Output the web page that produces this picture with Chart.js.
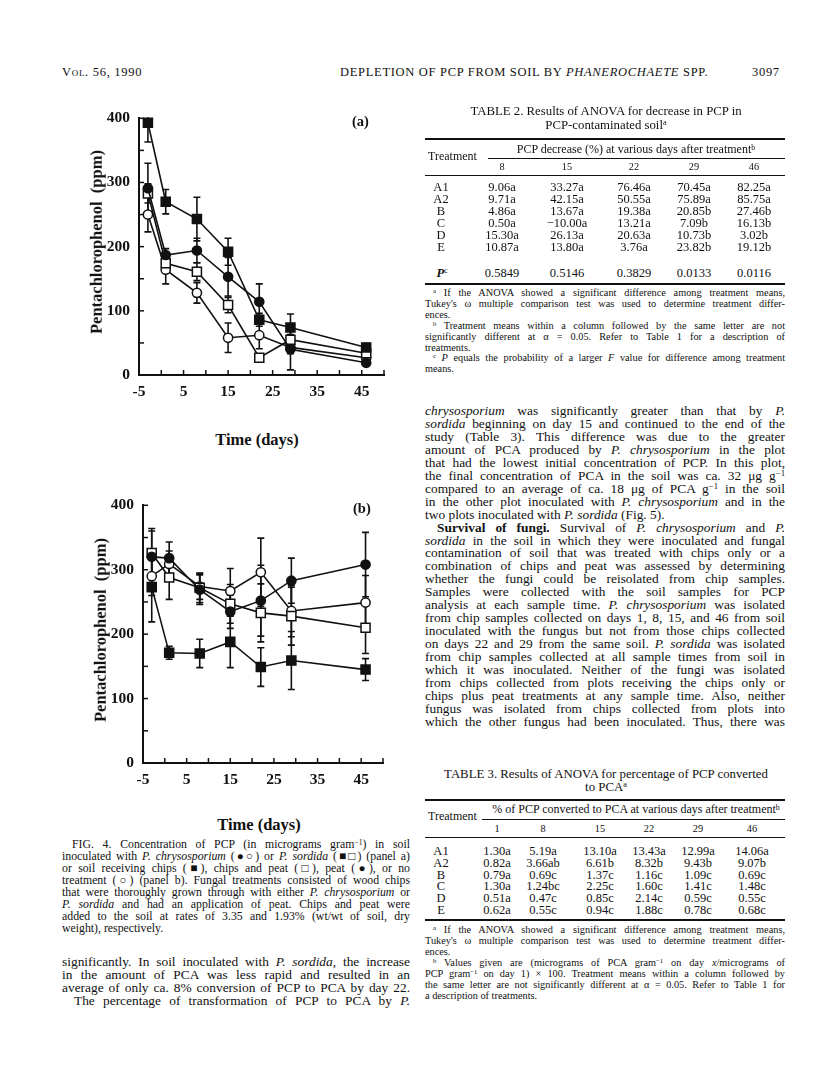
<!DOCTYPE html>
<html>
<head>
<meta charset="utf-8">
<script src="https://cdn.jsdelivr.net/npm/chart.js@4.4.1/dist/chart.umd.min.js"></script>
<style>
  html,body{margin:0;padding:0;background:#fff;}
  #page{position:relative;width:816px;height:1083px;overflow:hidden;background:#fff;color:#111;font-family:"Liberation Serif","Times New Roman",serif;}
  .l{position:absolute;white-space:nowrap;line-height:1;}
  .j{text-align:justify;text-align-last:justify;}
  .c{transform:translateX(-50%);}
  .r{position:absolute;background:#111;}
  .b{font-weight:bold;}
  i{font-style:italic;}
  sup{font-size:65%;line-height:0;vertical-align:0.45em;}
  .sc{font-variant:small-caps;}
  canvas{position:absolute;}
  .ylab{position:absolute;font-weight:bold;font-size:16.5px;white-space:nowrap;transform:translate(-50%,-50%) rotate(-90deg);line-height:1;}
  .xlab{position:absolute;font-weight:bold;font-size:16.5px;white-space:nowrap;transform:translate(-50%,-50%);line-height:1;}
  .cap{font-size:11.8px;}
  .body{font-size:13.4px;}
  .fn{font-size:10.3px;}
  .tb{font-size:12.5px;}
  .th{font-size:12px;}
  .hd{font-size:12.5px;letter-spacing:0.7px;}
</style>
</head>
<body>
<div id="page">
  <!-- running head -->
  <div class="l hd" style="left:62px;top:66px;"><span class="sc">Vol.</span> 56, 1990</div>
  <div class="l hd" style="left:340px;top:66px;">DEPLETION OF PCP FROM SOIL BY <i>PHANEROCHAETE</i> SPP.</div>
  <div class="l hd" style="left:752px;top:66px;">3097</div>

  <!-- chart a -->
  <canvas id="chartA" width="320" height="305" style="left:79px;top:100px;"></canvas>
  <div class="ylab" style="left:97px;top:242px;">Pentachlorophenol&nbsp;&nbsp;(ppm)</div>
  <div class="xlab" style="left:257px;top:440px;">Time (days)</div>
  <div class="l b" style="left:352px;top:114px;font-size:14.5px;">(a)</div>

  <!-- chart b -->
  <canvas id="chartB" width="320" height="306" style="left:83px;top:487px;"></canvas>
  <div class="ylab" style="left:101px;top:630px;">Pentachlorophenol&nbsp;&nbsp;(ppm)</div>
  <div class="xlab" style="left:259px;top:825px;">Time (days)</div>
  <div class="l b" style="left:353px;top:501px;font-size:14.5px;">(b)</div>

  <!-- figure caption -->
  <div class="l j cap" style="left:72px;top:839px;width:338px;">FIG. 4. Concentration of PCP (in micrograms gram<sup>−1</sup>) in soil</div>
  <div class="l j cap" style="left:62px;top:851px;width:348px;">inoculated with <i>P. chrysosporium</i> (●○) or <i>P. sordida</i> (■□) (panel a)</div>
  <div class="l j cap" style="left:62px;top:863px;width:348px;">or soil receiving chips (■), chips and peat (□), peat (●), or no</div>
  <div class="l j cap" style="left:62px;top:875px;width:348px;">treatment (○) (panel b). Fungal treatments consisted of wood chips</div>
  <div class="l j cap" style="left:62px;top:887px;width:348px;">that were thoroughly grown through with either <i>P. chrysosporium</i> or</div>
  <div class="l j cap" style="left:62px;top:899px;width:348px;"><i>P. sordida</i> and had an application of peat. Chips and peat were</div>
  <div class="l j cap" style="left:62px;top:911px;width:348px;">added to the soil at rates of 3.35 and 1.93% (wt/wt of soil, dry</div>
  <div class="l cap" style="left:62px;top:923px;">weight), respectively.</div>

  <!-- left column paragraph -->
  <div class="l j body" style="left:62px;top:955px;width:348px;">significantly. In soil inoculated with <i>P. sordida</i>, the increase</div>
  <div class="l j body" style="left:62px;top:968px;width:348px;">in the amount of PCA was less rapid and resulted in an</div>
  <div class="l j body" style="left:62px;top:981px;width:348px;">average of only ca. 8% conversion of PCP to PCA by day 22.</div>
  <div class="l j body" style="left:74px;top:994px;width:336px;">The percentage of transformation of PCP to PCA by <i>P.</i></div>

  <!-- TABLE 2 -->
  <div class="l c tb" style="left:606px;top:105px;font-size:12.8px;">TABLE 2. Results of ANOVA for decrease in PCP in</div>
  <div class="l c tb" style="left:606px;top:119px;font-size:12.8px;">PCP-contaminated soil<sup>a</sup></div>
  <div class="r" style="left:425px;top:138px;width:360px;height:1.5px;"></div>
  <div class="l c th" style="left:636px;top:143px;">PCP decrease (%) at various days after treatment<sup>b</sup></div>
  <div class="l th" style="left:428px;top:150px;">Treatment</div>
  <div class="r" style="left:488px;top:158px;width:297px;height:1px;"></div>
  <div id="t2head"></div>
  <div class="r" style="left:425px;top:175px;width:360px;height:1px;"></div>
  <div id="t2rows"></div>
  <div class="r" style="left:425px;top:283px;width:360px;height:1.5px;"></div>
  <div class="l j fn" style="left:433px;top:288px;width:352px;"><sup>a</sup> If the ANOVA showed a significant difference among treatment means,</div>
  <div class="l j fn" style="left:425px;top:299px;width:360px;">Tukey's ω multiple comparison test was used to determine treatment differ-</div>
  <div class="l fn" style="left:425px;top:310px;">ences.</div>
  <div class="l j fn" style="left:433px;top:321px;width:352px;"><sup>b</sup> Treatment means within a column followed by the same letter are not</div>
  <div class="l j fn" style="left:425px;top:332px;width:360px;">significantly different at α = 0.05. Refer to Table 1 for a description of</div>
  <div class="l fn" style="left:425px;top:343px;">treatments.</div>
  <div class="l j fn" style="left:433px;top:353px;width:352px;"><sup>c</sup> <i>P</i> equals the probability of a larger <i>F</i> value for difference among treatment</div>
  <div class="l fn" style="left:425px;top:364px;">means.</div>

  <!-- right column body text -->
  <div id="rbody"></div>

  <!-- TABLE 3 -->
  <div class="l c tb" style="left:606px;top:768px;font-size:12.8px;">TABLE 3. Results of ANOVA for percentage of PCP converted</div>
  <div class="l c tb" style="left:606px;top:781px;font-size:12.8px;">to PCA<sup>a</sup></div>
  <div class="r" style="left:425px;top:799px;width:360px;height:1.5px;"></div>
  <div class="l c th" style="left:636px;top:803px;">% of PCP converted to PCA at various days after treatment<sup>b</sup></div>
  <div class="l th" style="left:428px;top:810px;">Treatment</div>
  <div class="r" style="left:482px;top:819px;width:303px;height:1px;"></div>
  <div id="t3head"></div>
  <div class="r" style="left:425px;top:837px;width:360px;height:1px;"></div>
  <div id="t3rows"></div>
  <div class="r" style="left:425px;top:919px;width:360px;height:1.5px;"></div>
  <div class="l j fn" style="left:433px;top:925px;width:352px;"><sup>a</sup> If the ANOVA showed a significant difference among treatment means,</div>
  <div class="l j fn" style="left:425px;top:936px;width:360px;">Tukey's ω multiple comparison test was used to determine treatment differ-</div>
  <div class="l fn" style="left:425px;top:947px;">ences.</div>
  <div class="l j fn" style="left:433px;top:958px;width:352px;"><sup>b</sup> Values given are (micrograms of PCA gram<sup>−1</sup> on day <i>x</i>/micrograms of</div>
  <div class="l j fn" style="left:425px;top:969px;width:360px;">PCP gram<sup>−1</sup> on day 1) × 100. Treatment means within a column followed by</div>
  <div class="l j fn" style="left:425px;top:980px;width:360px;">the same letter are not significantly different at α = 0.05. Refer to Table 1 for</div>
  <div class="l fn" style="left:425px;top:991px;">a description of treatments.</div>
</div>

<script>
// ---------- chart data ----------
const days = [-3, 1, 8, 15, 22, 29, 46];
const xTickLabels = [-5, 5, 15, 25, 35, 45];
const yTickLabels = [0, 100, 200, 300, 400];

// panel (a): P. chrysosporium (filled / open circle), P. sordida (filled / open square)
const aFilledSquare    = [393, 270, 243, 192, 86, 74, 43];
const aFilledSquareErr = [30, 19, 34, 21, 10, 21, 6];
const aFilledCircle    = [291, 187, 194, 153, 114, 40, 19];
const aFilledCircleErr = [39, 10, 19, 30, 28, 32, 5];
const aOpenSquare      = [283, 174, 161, 109, 27, 55, 34];
const aOpenSquareErr   = [15, 10, 14, 12, 5, 8, 5];
const aOpenCircle      = [250, 164, 128, 58, 62, 43, 27];
const aOpenCircleErr   = [27, 22, 16, 23, 21, 10, 5];

// panel (b): chips (filled square), chips and peat (open square), peat (filled circle), no treatment (open circle)
const bFilledSquare    = [273, 171, 170, 188, 149, 159, 145];
const bFilledSquareErr = [54, 10, 22, 40, 30, 45, 17];
const bFilledCircle    = [320, 318, 269, 235, 252, 283, 308];
const bFilledCircleErr = [40, 25, 23, 26, 55, 35, 50];
const bOpenSquare      = [326, 288, 272, 247, 233, 228, 210];
const bOpenSquareErr   = [38, 34, 23, 30, 45, 45, 40];
const bOpenCircle      = [290, 309, 274, 267, 296, 236, 249];
const bOpenCircleErr   = [30, 20, 20, 35, 53, 40, 42];

// ---------- tables ----------
const t2Days = ['8', '15', '22', '29', '46'];
const t2Treat = ['A1', 'A2', 'B', 'C', 'D', 'E'];
const t2Vals = [
  ['9.06a', '33.27a', '76.46a', '70.45a', '82.25a'],
  ['9.71a', '42.15a', '50.55a', '75.89a', '85.75a'],
  ['4.86a', '13.67a', '19.38a', '20.85b', '27.46b'],
  ['0.50a', '−10.00a', '13.21a', '7.09b', '16.13b'],
  ['15.30a', '26.13a', '20.63a', '10.73b', '3.02b'],
  ['10.87a', '13.80a', '3.76a', '23.82b', '19.12b']
];
const t2P = ['0.5849', '0.5146', '0.3829', '0.0133', '0.0116'];
const t3Days = ['1', '8', '15', '22', '29', '46'];
const t3Vals = [
  ['1.30a', '5.19a', '13.10a', '13.43a', '12.99a', '14.06a'],
  ['0.82a', '3.66ab', '6.61b', '8.32b', '9.43b', '9.07b'],
  ['0.79a', '0.69c', '1.37c', '1.16c', '1.09c', '0.69c'],
  ['1.30a', '1.24bc', '2.25c', '1.60c', '1.41c', '1.48c'],
  ['0.51a', '0.47c', '0.85c', '2.14c', '0.59c', '0.55c'],
  ['0.62a', '0.55c', '0.94c', '1.88c', '0.78c', '0.68c']
];

function addText(parentId, html, left, top, cls, center) {
  const d = document.createElement('div');
  d.className = 'l ' + (cls || '') + (center ? ' c' : '');
  d.style.left = left + 'px';
  d.style.top = top + 'px';
  d.innerHTML = html;
  document.getElementById(parentId).appendChild(d);
}
const t2Cols = [502, 567, 634, 694, 754];
t2Days.forEach((d, c) => addText('t2head', d, t2Cols[c], 162, 'fn', true));
t2Treat.forEach((t, r) => {
  const top = 181 + r * 12;
  addText('t2rows', t, 441, top, 'tb', true);
  t2Vals[r].forEach((v, c) => addText('t2rows', v, t2Cols[c], top, 'tb', true));
});
addText('t2rows', '<i><b>P</b></i><sup>c</sup>', 442, 267, 'tb', true);
t2P.forEach((v, c) => addText('t2rows', v, t2Cols[c], 267, 'tb', true));

const t3Cols = [497, 543, 600, 649, 698, 752];
t3Days.forEach((d, c) => addText('t3head', d, t3Cols[c], 824, 'fn', true));
t3Vals.forEach((row, r) => {
  const top = 845 + r * 11.8;
  addText('t3rows', t2Treat[r], 441, top, 'tb', true);
  row.forEach((v, c) => addText('t3rows', v, t3Cols[c], top, 'tb', true));
});

// right column body lines
const rLines = [
  ['<i>chrysosporium</i> was significantly greater than that by <i>P.</i>', 1],
  ['<i>sordida</i> beginning on day 15 and continued to the end of the', 1],
  ['study (Table 3). This difference was due to the greater', 1],
  ['amount of PCA produced by <i>P. chrysosporium</i> in the plot', 1],
  ['that had the lowest initial concentration of PCP. In this plot,', 1],
  ['the final concentration of PCA in the soil was ca. 32 μg g<sup>−1</sup>', 1],
  ['compared to an average of ca. 18 μg of PCA g<sup>−1</sup> in the soil', 1],
  ['in the other plot inoculated with <i>P. chrysosporium</i> and in the', 1],
  ['two plots inoculated with <i>P. sordida</i> (Fig. 5).', 0],
  ['<b>Survival of fungi.</b> Survival of <i>P. chrysosporium</i> and <i>P.</i>', 2],
  ['<i>sordida</i> in the soil in which they were inoculated and fungal', 1],
  ['contamination of soil that was treated with chips only or a', 1],
  ['combination of chips and peat was assessed by determining', 1],
  ['whether the fungi could be reisolated from chip samples.', 1],
  ['Samples were collected with the soil samples for PCP', 1],
  ['analysis at each sample time. <i>P. chrysosporium</i> was isolated', 1],
  ['from chip samples collected on days 1, 8, 15, and 46 from soil', 1],
  ['inoculated with the fungus but not from those chips collected', 1],
  ['on days 22 and 29 from the same soil. <i>P. sordida</i> was isolated', 1],
  ['from chip samples collected at all sample times from soil in', 1],
  ['which it was inoculated. Neither of the fungi was isolated', 1],
  ['from chips collected from plots receiving the chips only or', 1],
  ['chips plus peat treatments at any sample time. Also, neither', 1],
  ['fungus was isolated from chips collected from plots into', 1],
  ['which the other fungus had been inoculated. Thus, there was', 1]
];
rLines.forEach((ln, i) => {
  const d = document.createElement('div');
  const indent = ln[1] === 2 ? 12 : 0;
  d.className = 'l body' + (ln[1] ? ' j' : '');
  d.style.left = (425 + indent) + 'px';
  d.style.top = (404 + i * 12.95) + 'px';
  if (ln[1]) d.style.width = (360 - indent) + 'px';
  d.innerHTML = ln[0];
  document.getElementById('rbody').appendChild(d);
});

// ---------- charts ----------
const errorBars = {
  id: 'errorBars',
  beforeDatasetsDraw(chart) {
    const {ctx, chartArea, scales: {x, y}} = chart;
    ctx.save();
    ctx.beginPath();
    ctx.rect(chartArea.left, chartArea.top - 1, chartArea.right - chartArea.left, chartArea.bottom - chartArea.top + 1);
    ctx.clip();
    ctx.strokeStyle = '#111';
    ctx.lineWidth = 1.6;
    chart.data.datasets.forEach(ds => {
      if (!ds.errors) return;
      ds.data.forEach((p, i) => {
        const e = ds.errors[i];
        const px = x.getPixelForValue(p.x);
        const y1 = y.getPixelForValue(p.y + e);
        const y2 = y.getPixelForValue(p.y - e);
        ctx.beginPath();
        ctx.moveTo(px, y1); ctx.lineTo(px, y2);
        ctx.moveTo(px - 3.5, y1); ctx.lineTo(px + 3.5, y1);
        ctx.moveTo(px - 3.5, y2); ctx.lineTo(px + 3.5, y2);
        ctx.stroke();
      });
    });
    ctx.restore();
  }
};
const innerTicks = {
  id: 'innerTicks',
  afterDraw(chart) {
    const {ctx, chartArea: {left, bottom}, scales: {x, y}} = chart;
    ctx.save();
    ctx.strokeStyle = '#111';
    ctx.lineWidth = 1.5;
    x.ticks.forEach(t => {
      if (t.value <= x.min) return;
      const px = x.getPixelForValue(t.value);
      ctx.beginPath(); ctx.moveTo(px, bottom); ctx.lineTo(px, bottom - 5); ctx.stroke();
    });
    y.ticks.forEach(t => {
      if (t.value <= y.min) return;
      const py = y.getPixelForValue(t.value);
      ctx.beginPath(); ctx.moveTo(left, py); ctx.lineTo(left + 5, py); ctx.stroke();
    });
    ctx.restore();
  }
};

function series(label, values, errs, style, filled) {
  return {
    label,
    data: days.map((d, i) => ({x: d, y: values[i]})),
    errors: errs,
    borderColor: '#111',
    borderWidth: 1.6,
    pointStyle: style,
    pointRadius: style === 'rect' ? 6.4 : 4.6,
    pointBorderWidth: 1.5,
    pointBorderColor: '#111',
    pointBackgroundColor: filled ? '#111' : '#fff',
    tension: 0,
    fill: false,
    clip: false
  };
}

const tickFont = {family: 'Liberation Serif', weight: 'bold', size: 15.5};
function makeOptions(padRight, padTop) {
  return {
    responsive: false,
    animation: false,
    devicePixelRatio: 1,
    layout: {padding: {top: padTop, right: padRight, left: 0, bottom: 0}},
    plugins: {legend: {display: false}, tooltip: {enabled: false}},
    scales: {
      x: {
        type: 'linear', min: -5, max: 50,
        afterFit(s) { s.height = 30; },
        grid: {display: true, drawOnChartArea: false, drawTicks: false},
        border: {display: true, color: '#111', width: 2},
        ticks: {
          stepSize: 5, autoSkip: false, maxRotation: 0, color: '#111', font: tickFont, padding: 8,
          callback: v => xTickLabels.includes(v) ? String(v) : ''
        }
      },
      y: {
        type: 'linear', min: 0, max: 400,
        afterFit(s) { s.width = 60; },
        grid: {display: true, drawOnChartArea: false, drawTicks: false},
        border: {display: true, color: '#111', width: 2},
        ticks: {
          stepSize: 50, autoSkip: false, color: '#111', font: tickFont, padding: 9,
          callback: v => yTickLabels.includes(v) ? String(v) : ''
        }
      }
    }
  };
}

new Chart(document.getElementById('chartA'), {
  type: 'line',
  data: {datasets: [
    series('P. sordida (■)', aFilledSquare, aFilledSquareErr, 'rect', true),
    series('P. chrysosporium (●)', aFilledCircle, aFilledCircleErr, 'circle', true),
    series('P. sordida (□)', aOpenSquare, aOpenSquareErr, 'rect', false),
    series('P. chrysosporium (○)', aOpenCircle, aOpenCircleErr, 'circle', false)
  ]},
  options: makeOptions(15, 10),
  plugins: [errorBars, innerTicks]
});

new Chart(document.getElementById('chartB'), {
  type: 'line',
  data: {datasets: [
    series('Chips (■)', bFilledSquare, bFilledSquareErr, 'rect', true),
    series('Peat (●)', bFilledCircle, bFilledCircleErr, 'circle', true),
    series('Chips and peat (□)', bOpenSquare, bOpenSquareErr, 'rect', false),
    series('No treatment (○)', bOpenCircle, bOpenCircleErr, 'circle', false)
  ]},
  options: makeOptions(20, 10),
  plugins: [errorBars, innerTicks]
});
</script>
</body>
</html>
